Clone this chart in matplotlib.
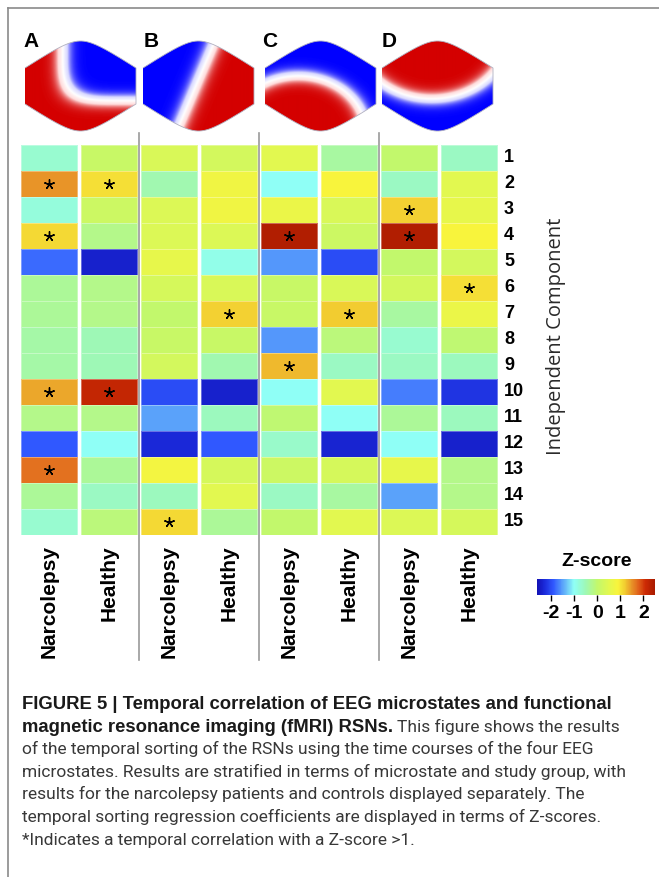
import numpy as np
import matplotlib
matplotlib.use("Agg")
import matplotlib.pyplot as plt
from matplotlib import cm
from matplotlib.colors import LinearSegmentedColormap, Normalize
from matplotlib.path import Path
from matplotlib.patches import PathPatch

plt.rcParams["font.family"] = ["Liberation Sans", "DejaVu Sans"]
plt.rcParams["axes.unicode_minus"] = False

W, H = 659, 877

# Z-scores of the temporal sorting, one list per microstate / group column
components = list(range(1, 16))
microstates = ["A", "B", "C", "D"]
groups = ["Narcolepsy", "Healthy"] * 4

z_a_narcolepsy = [-0.7, 1.5, -0.8, 1.1, -1.8, -0.3, -0.3, -0.4, -0.4, 1.4, -0.2, -1.9, 1.7, -0.3, -0.7]
z_a_healthy = [0.1, 1.05, 0.15, -0.2, -2.4, -0.2, -0.2, -0.5, -0.5, 2.2, -0.2, -1.0, -0.3, -0.6, -0.1]
z_b_narcolepsy = [0.35, -0.45, 0.4, 0.4, 0.6, 0.3, 0.0, 0.1, 0.25, -2.0, -1.5, -2.3, 0.8, -0.55, 1.1]
z_b_healthy = [0.25, 0.75, 0.75, 0.4, -0.9, 0.35, 1.15, 0.1, -0.45, -2.4, -0.55, -1.9, 0.3, 0.5, -0.3]
z_c_narcolepsy = [0.5, -1.0, 0.65, 2.4, -1.55, 0.1, 0.1, -1.55, 1.3, -1.0, -0.05, -0.65, 0.15, -0.6, 0.0]
z_c_healthy = [-0.35, 0.9, 0.35, 0.15, -2.0, 0.35, 1.2, -0.1, -0.6, 0.5, -1.0, -2.35, 0.3, -0.35, 0.5]
z_d_narcolepsy = [0.0, -0.6, 1.15, 2.4, 0.0, 0.25, -0.35, -0.7, -0.6, -1.7, -0.3, -1.0, 0.6, -1.5, 0.4]
z_d_healthy = [-0.6, 0.5, 0.6, 0.9, 0.25, 1.05, 0.65, -0.05, -0.55, -2.2, -0.55, -2.4, -0.2, -0.2, 0.3]

z = np.column_stack([z_a_narcolepsy, z_a_healthy, z_b_narcolepsy, z_b_healthy,
                     z_c_narcolepsy, z_c_healthy, z_d_narcolepsy, z_d_healthy])

colorbar_ticks = [-2, -1, 0, 1, 2]
star_threshold = 1.0

# jet-like palette with a pale middle
stop_values = [-2.6, -2.3, -1.9, -1.5, -1.0, -0.5, 0.0, 0.5, 0.9, 1.2, 1.5, 1.8, 2.1, 2.5]
stop_colors = ["#1212b4", "#1a28d8", "#3058ff", "#5aa2fa", "#8ffff6", "#9ef8b6", "#c2f86c",
               "#e2f850", "#f8f43c", "#f2cc30", "#e89428", "#e0601a", "#cc2a04", "#a81a00"]
vmin, vmax = stop_values[0], stop_values[-1]
zcmap = LinearSegmentedColormap.from_list(
    "zscore", [((v - vmin) / (vmax - vmin), c) for v, c in zip(stop_values, stop_colors)])
znorm = Normalize(vmin=vmin, vmax=vmax)

topo_cmap = LinearSegmentedColormap.from_list("topo", ["#0000ff", "#d8d8ff", "#ffffff", "#ffdcdc", "#d40000"])


def px_axes(fig, x0, y0, x1, y1):
    return fig.add_axes([x0 / W, 1 - y1 / H, (x1 - x0) / W, (y1 - y0) / H])


fig = plt.figure(figsize=(W / 100, H / 100), dpi=100)

# overlay in pixel coordinates for frame, maps and labels
ov = px_axes(fig, 0, 0, W, H)
ov.set_xlim(0, W)
ov.set_ylim(H, 0)
ov.axis("off")
ov.set_zorder(5)

ov.plot([8, W], [8, 8], color="#8a8a8a", lw=1.2)
ov.plot([8, 8], [8, H], color="#8a8a8a", lw=1.2)

# heatmap
x0_hm, pitch = 19, 60
ax = px_axes(fig, x0_hm, 145, x0_hm + 8 * pitch, 535)
g = 0.035
for j in range(z.shape[1]):
    ax.pcolormesh([j + g, j + 1 - g], np.arange(16), z[:, j:j + 1], cmap=zcmap, norm=znorm,
                  edgecolors=(1, 1, 1, 0.35), linewidth=0.4)
rows, cols = np.where(z > star_threshold)
ax.scatter(cols + 0.5, rows + 0.5, marker=(5, 2, 0), s=48, color="black", linewidths=1.0, zorder=3)
ax.set_xlim(0, 8)
ax.set_ylim(15, 0)
ax.axis("off")

# separators between microstates
for k in (1, 2, 3):
    xs = x0_hm + 2 * k * pitch
    ov.plot([xs, xs], [133, 660], color="#9a9a9a", lw=1.2)

# row and column labels
for i, comp in enumerate(components):
    ov.text(504, 145 + 26 * (i + 0.5), str(comp), fontsize=13, fontweight="bold",
            ha="left", va="center")
ov.text(556, 336, "Independent Component", rotation=90, fontsize=14.5, color="#2a2a2a",
        ha="center", va="center", family=["Open Sans", "DejaVu Sans"])
for j, grp in enumerate(groups):
    ov.text(x0_hm + pitch * (j + 0.5), 545, grp, rotation=90, fontsize=15, fontweight="bold",
            ha="center", va="top")


# microstate topographies
def map_outline(xl, w=111, top=41, bottom=131, side=18, c=18.0):
    xc = xl + w / 2
    ym = (top + bottom) / 2
    u = np.linspace(-w / 2, w / 2, 150)
    rise_total = ym - side - top
    k = rise_total / (np.sqrt((w / 2) ** 2 + c ** 2) - c)
    rise = k * (np.sqrt(u ** 2 + c ** 2) - c)
    xs = np.concatenate([xc + u, (xc + u)[::-1]])
    ys = np.concatenate([top + rise, (bottom - rise)[::-1]])
    return Path(np.column_stack([xs, ys]), closed=False)


def topo_field(name, u, v):
    if name == "A":
        d = (np.abs(u - 0.8) ** 4 + np.abs(v - 0.8) ** 4) ** (1 / 4)
        s = d - 1.12
    elif name == "B":
        s = ((u - 0.3) * 2.0 - (v - 1.0) * 0.7) / np.hypot(2.0, 0.7)
    elif name == "C":
        s = 1.22 - np.hypot(u + 0.4, v + 1.0)
    else:
        s = 1.38 - np.hypot(u + 0.1, v - 1.1)
    return np.tanh(s / 0.15)


map_left = [25, 143, 265, 382]
letter_x = [23, 144, 262, 382]
for name, xl, lx in zip(microstates, map_left, letter_x):
    xx = np.linspace(xl, xl + 111, 220)
    yy = np.linspace(41, 131, 180)
    X, Y = np.meshgrid(xx, yy)
    U = (X - (xl + 55.5)) / 55.5
    V = (86 - Y) / 46.0
    im = ov.imshow(topo_field(name, U, V), cmap=topo_cmap, vmin=-1, vmax=1,
                   extent=(xl, xl + 111, 131, 41), origin="upper", interpolation="bilinear",
                   aspect="auto")
    patch = PathPatch(map_outline(xl), facecolor="none", edgecolor="#b0b0c0", lw=0.6)
    ov.add_patch(patch)
    im.set_clip_path(patch)
    ov.text(lx, 47, name, fontsize=15, fontweight="bold", ha="left", va="baseline")
ov.set_xlim(0, W)
ov.set_ylim(H, 0)

# colour bar
ov.text(597, 561, "Z-score", fontsize=14, fontweight="bold", ha="center", va="center")
cax = px_axes(fig, 537, 579, 655, 595)
cb = fig.colorbar(cm.ScalarMappable(norm=znorm, cmap=zcmap), cax=cax, orientation="horizontal",
                  ticks=colorbar_ticks)
cb.outline.set_visible(False)
cax.tick_params(length=4, width=1, direction="out", pad=3, labelsize=14)
cax.set_xticklabels([str(t) for t in colorbar_ticks])
for lab in cax.get_xticklabels():
    lab.set_fontweight("bold")

# caption
caption = [
    [("FIGURE 5 | Temporal correlation of EEG microstates and functional", True)],
    [("magnetic resonance imaging (fMRI) RSNs.", True), ("This figure shows the results", False)],
    [("of the temporal sorting of the RSNs using the time courses of the four EEG", False)],
    [("microstates. Results are stratified in terms of microstate and study group, with", False)],
    [("results for the narcolepsy patients and controls displayed separately. The", False)],
    [("temporal sorting regression coefficients are displayed in terms of Z-scores.", False)],
    [("*Indicates a temporal correlation with a Z-score >1.", False)],
]
fig.canvas.draw()
renderer = fig.canvas.get_renderer()
for li, parts in enumerate(caption):
    x = 22
    y = 709 + 22.6 * li
    for text, bold in parts:
        if bold:
            t = ov.text(x, y, text, fontsize=13.3, fontweight="bold", color="#1a1a1a",
                        ha="left", va="baseline")
        else:
            t = ov.text(x, y, text, fontsize=12.5, color="#383838", ha="left", va="baseline",
                        family=["Roboto", "DejaVu Sans"])
        x += t.get_window_extent(renderer).width + 4

fig.savefig("out.png", dpi=100)
